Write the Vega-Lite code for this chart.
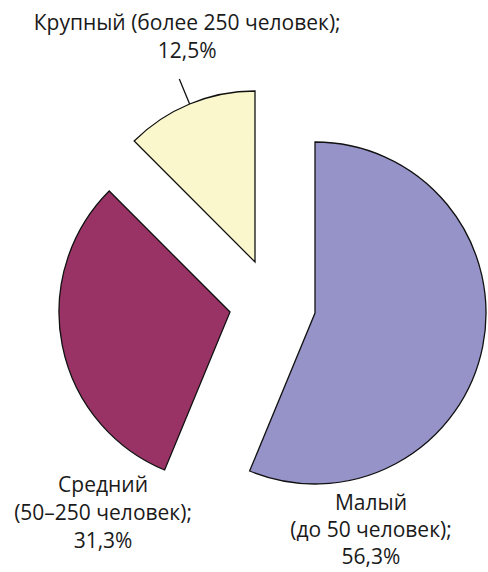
{
  "$schema": "https://vega.github.io/schema/vega-lite/v6.json",
  "width": 488,
  "height": 572,
  "padding": 0,
  "autosize": {"type": "fit", "contains": "padding"},
  "view": {"stroke": null},
  "config": {"text": {"font": "Open Sans", "fontSize": 21, "fill": "#1a1a1a"}},
  "data": {
    "values": [
      {"segment": "Малый", "value": 56.3, "label": "Малый\n(до 50 человек);\n56,3%"},
      {"segment": "Средний", "value": 31.3, "label": "Средний\n(50–250 человек);\n31,3%"},
      {"segment": "Крупный", "value": 12.5, "label": "Крупный (более 250 человек);\n12,5%"}
    ]
  },
  "transform": [
    {"stack": "value", "groupby": [], "sort": [{"field": "value", "order": "descending"}], "as": ["v0", "v1"]},
    {"calculate": "(datum.v0 + datum.v1) / 2", "as": "mid"}
  ],
  "encoding": {
    "theta": {"field": "v0", "type": "quantitative", "scale": {"domain": [0, 100.1]}},
    "theta2": {"field": "v1"},
    "color": {
      "field": "segment",
      "type": "nominal",
      "scale": {"domain": ["Малый", "Средний", "Крупный"], "range": ["#9593c8", "#993366", "#faf7cd"]},
      "legend": null
    }
  },
  "layer": [
    {
      "transform": [{"filter": "datum.segment === 'Малый'"}],
      "mark": {"type": "arc", "radius": 171, "xOffset": 72, "yOffset": 27, "stroke": "#111111", "strokeWidth": 1.3}
    },
    {
      "transform": [{"filter": "datum.segment === 'Средний'"}],
      "mark": {"type": "arc", "radius": 171, "xOffset": -13, "yOffset": 26, "stroke": "#111111", "strokeWidth": 1.3}
    },
    {
      "transform": [{"filter": "datum.segment === 'Крупный'"}],
      "mark": {"type": "arc", "radius": 171, "xOffset": 12, "yOffset": -24, "stroke": "#111111", "strokeWidth": 1.3}
    },
    {
      "transform": [{"filter": "datum.segment === 'Крупный'"}],
      "mark": {"type": "arc", "radius": 198, "radius2": 171, "xOffset": 12, "yOffset": -24, "stroke": "#111111", "strokeWidth": 1.3, "fill": null},
      "encoding": {
        "theta": {"field": "mid", "type": "quantitative", "scale": {"domain": [0, 100.1]}},
        "theta2": {"field": "mid"},
        "color": {"value": null}
      }
    },
    {
      "transform": [{"filter": "datum.segment === 'Крупный'"}],
      "mark": {"type": "text", "theta": 6.0685, "radius": 262, "align": "center", "baseline": "alphabetic", "lineBreak": "\n", "lineHeight": 28},
      "encoding": {"text": {"field": "label"}, "theta": null, "theta2": null, "color": {"value": "#1a1a1a"}}
    },
    {
      "transform": [{"filter": "datum.segment === 'Средний'"}],
      "mark": {"type": "text", "theta": 3.7385, "radius": 249, "align": "center", "baseline": "alphabetic", "lineBreak": "\n", "lineHeight": 28},
      "encoding": {"text": {"field": "label"}, "theta": null, "theta2": null, "color": {"value": "#1a1a1a"}}
    },
    {
      "transform": [{"filter": "datum.segment === 'Малый'"}],
      "mark": {"type": "text", "theta": 2.6225, "radius": 258, "align": "center", "baseline": "alphabetic", "lineBreak": "\n", "lineHeight": 27},
      "encoding": {"text": {"field": "label"}, "theta": null, "theta2": null, "color": {"value": "#1a1a1a"}}
    }
  ]
}
